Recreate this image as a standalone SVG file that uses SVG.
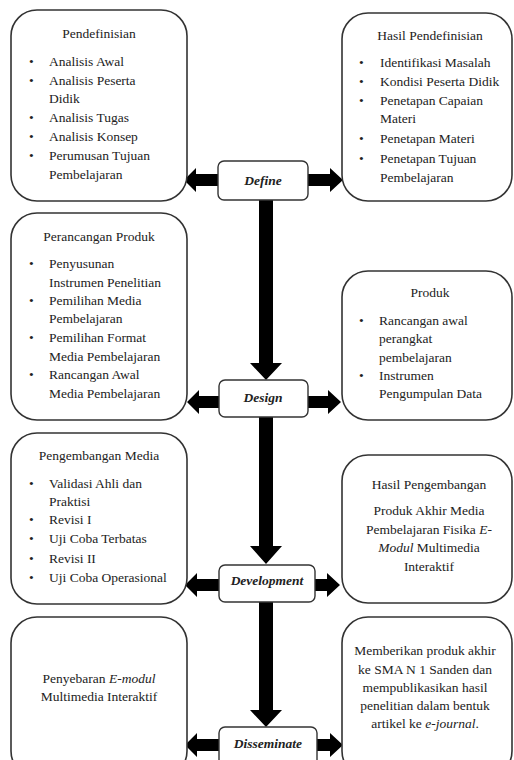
<svg xmlns="http://www.w3.org/2000/svg" width="514" height="760" viewBox="0 0 514 760">
<style>
.box{fill:#fff;stroke:#333;stroke-width:1.6}
.lbl{fill:#fff;stroke:#333;stroke-width:1.4}
.t{font-family:"Liberation Serif","DejaVu Serif",serif;font-size:13.5px;fill:#222}
.c{text-anchor:middle}
.s{font-family:"Liberation Serif","DejaVu Serif",serif;font-size:13.5px;font-weight:bold;font-style:italic;fill:#222;text-anchor:middle}
.ar{fill:#000}
</style>
<rect width="514" height="760" fill="#fff"/>
<g id="connectors">
<polygon class="ar" points="259,200 273,200 273,363 282,363 266,380 250,363 259,363"/>
<polygon class="ar" points="259,417 273,417 273,546 282,546 266,564 250,546 259,546"/>
<polygon class="ar" points="259,602 273,602 273,710 282,710 266,727 250,710 259,710"/>
<polygon class="ar" points="218,174 196,174 196,168 184,180 196,192 196,186 218,186"/>
<polygon class="ar" points="308,174 330,174 330,168 343,180 330,192 330,186 308,186"/>
<polygon class="ar" points="219,396 199,396 199,390 187,402 199,414 199,408 219,408"/>
<polygon class="ar" points="308,396 328,396 328,390 341,402 328,414 328,408 308,408"/>
<polygon class="ar" points="219,579 197,579 197,573 185,585 197,597 197,591 219,591"/>
<polygon class="ar" points="315,579 327,579 327,573 340,585 327,597 327,591 315,591"/>
<polygon class="ar" points="219,739 197,739 197,733 185,745 197,757 197,751 219,751"/>
<polygon class="ar" points="317,739 330,739 330,733 343,745 330,757 330,751 317,751"/>
</g>
<g id="pendefinisian">
<rect class="box" x="11" y="10" width="176" height="191" rx="26"/>
<text class="t c" x="99" y="38">Pendefinisian</text>
<text class="t" x="29" y="66">•</text><text class="t" x="49" y="66">Analisis Awal</text>
<text class="t" x="29" y="85">•</text><text class="t" x="49" y="85">Analisis Peserta</text>
<text class="t" x="49" y="103">Didik</text>
<text class="t" x="29" y="122">•</text><text class="t" x="49" y="122">Analisis Tugas</text>
<text class="t" x="29" y="141">•</text><text class="t" x="49" y="141">Analisis Konsep</text>
<text class="t" x="29" y="160">•</text><text class="t" x="49" y="160">Perumusan Tujuan</text>
<text class="t" x="49" y="179">Pembelajaran</text>
</g>
<g id="hasil-pendefinisian">
<rect class="box" x="342" y="13" width="170" height="188" rx="26"/>
<text class="t c" x="430" y="40">Hasil Pendefinisian</text>
<text class="t" x="359" y="67">•</text><text class="t" x="380" y="67">Identifikasi Masalah</text>
<text class="t" x="359" y="86">•</text><text class="t" x="380" y="86">Kondisi Peserta Didik</text>
<text class="t" x="359" y="105">•</text><text class="t" x="380" y="105">Penetapan Capaian</text>
<text class="t" x="380" y="123">Materi</text>
<text class="t" x="359" y="143">•</text><text class="t" x="380" y="143">Penetapan Materi</text>
<text class="t" x="359" y="163">•</text><text class="t" x="380" y="163">Penetapan Tujuan</text>
<text class="t" x="380" y="182">Pembelajaran</text>
</g>
<g id="define">
<rect class="lbl" x="218" y="161" width="90" height="39" rx="6"/>
<text class="s" x="263" y="185">Define</text>
</g>
<g id="perancangan-produk">
<rect class="box" x="11" y="213" width="176" height="207" rx="26"/>
<text class="t c" x="99" y="241">Perancangan Produk</text>
<text class="t" x="29" y="268">•</text><text class="t" x="49" y="268">Penyusunan</text>
<text class="t" x="49" y="287">Instrumen Penelitian</text>
<text class="t" x="29" y="305">•</text><text class="t" x="49" y="305">Pemilihan Media</text>
<text class="t" x="49" y="323">Pembelajaran</text>
<text class="t" x="29" y="342">•</text><text class="t" x="49" y="342">Pemilihan Format</text>
<text class="t" x="49" y="361">Media Pembelajaran</text>
<text class="t" x="29" y="379">•</text><text class="t" x="49" y="379">Rancangan Awal</text>
<text class="t" x="49" y="398">Media Pembelajaran</text>
</g>
<g id="produk">
<rect class="box" x="342" y="271" width="170" height="149" rx="26"/>
<text class="t c" x="430" y="297">Produk</text>
<text class="t" x="359" y="325">•</text><text class="t" x="379" y="325">Rancangan awal</text>
<text class="t" x="379" y="343">perangkat</text>
<text class="t" x="379" y="362">pembelajaran</text>
<text class="t" x="359" y="380">•</text><text class="t" x="379" y="380">Instrumen</text>
<text class="t" x="379" y="398">Pengumpulan Data</text>
</g>
<g id="design">
<rect class="lbl" x="219" y="380" width="89" height="37" rx="6"/>
<text class="s" x="263" y="402">Design</text>
</g>
<g id="pengembangan-media">
<rect class="box" x="11" y="433" width="176" height="171" rx="26"/>
<text class="t c" x="99" y="460">Pengembangan Media</text>
<text class="t" x="29" y="488">•</text><text class="t" x="49" y="488">Validasi Ahli dan</text>
<text class="t" x="49" y="506">Praktisi</text>
<text class="t" x="29" y="524">•</text><text class="t" x="49" y="524">Revisi I</text>
<text class="t" x="29" y="543">•</text><text class="t" x="49" y="543">Uji Coba Terbatas</text>
<text class="t" x="29" y="563">•</text><text class="t" x="49" y="563">Revisi II</text>
<text class="t" x="29" y="582">•</text><text class="t" x="49" y="582">Uji Coba Operasional</text>
</g>
<g id="hasil-pengembangan">
<rect class="box" x="342" y="455" width="170" height="148" rx="26"/>
<text class="t c" x="429" y="489">Hasil Pengembangan</text>
<text class="t c" x="429" y="515">Produk Akhir Media</text>
<text class="t c" x="429" y="534">Pembelajaran Fisika <tspan font-style="italic">E-</tspan></text>
<text class="t c" x="429" y="552"><tspan font-style="italic">Modul</tspan> Multimedia</text>
<text class="t c" x="429" y="571">Interaktif</text>
</g>
<g id="development">
<rect class="lbl" x="219" y="565" width="96" height="37" rx="6"/>
<text class="s" x="267" y="585">Development</text>
</g>
<g id="penyebaran">
<rect class="box" x="11" y="617" width="176" height="160" rx="26"/>
<text class="t c" x="99" y="683">Penyebaran <tspan font-style="italic">E-modul</tspan></text>
<text class="t c" x="99" y="701">Multimedia Interaktif</text>
</g>
<g id="memberikan">
<rect class="box" x="342" y="617" width="170" height="160" rx="26"/>
<text class="t c" x="425" y="655">Memberikan produk akhir</text>
<text class="t c" x="425" y="674">ke SMA N 1 Sanden dan</text>
<text class="t c" x="425" y="692">mempublikasikan hasil</text>
<text class="t c" x="425" y="710">penelitian dalam bentuk</text>
<text class="t c" x="425" y="728">artikel ke <tspan font-style="italic">e-journal</tspan>.</text>
</g>
<g id="disseminate">
<rect class="lbl" x="219" y="727" width="98" height="40" rx="6"/>
<text class="s" x="268" y="748">Disseminate</text>
</g>
</svg>
